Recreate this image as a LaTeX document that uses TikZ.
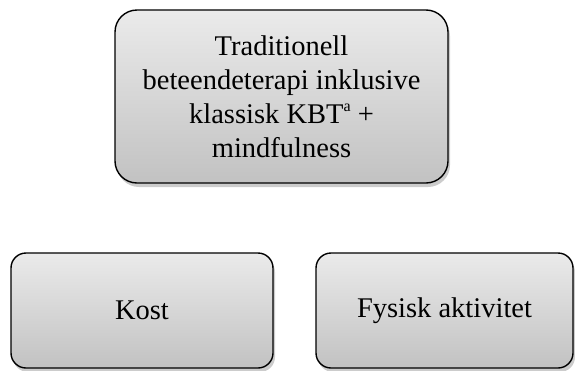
\documentclass[tikz,border=0pt]{standalone}
\usepackage{fontspec}
\setmainfont{Liberation Serif}
\usetikzlibrary{shadows}
\tikzset{
  boxstyle/.style={draw=black, line width=1.4pt, top color=black!8, bottom color=black!24,
    align=center, inner sep=0pt, font=\fontsize{28.5}{34}\selectfont,
    drop shadow={shadow xshift=2pt, shadow yshift=-4pt, opacity=0.2, fill=black}},
}
\begin{document}
\begin{tikzpicture}[x=1pt,y=-1pt]
\useasboundingbox (0,0) rectangle (575,370);
\node[boxstyle, rounded corners=22pt, minimum width=333pt, minimum height=173pt] (top) at (281.5,96.5)
  {Traditionell\\beteendeterapi inklusive\\klassisk KBT\raisebox{0.42em}{\fontsize{16}{16}\selectfont a} +\\mindfulness};
\node[boxstyle, rounded corners=15pt, minimum width=262pt, minimum height=115pt] (kost) at (142,310.5) {Kost};
\node[boxstyle, rounded corners=15pt, minimum width=257pt, minimum height=115pt] (fys) at (444.5,310.5) {Fysisk aktivitet};
\end{tikzpicture}
\end{document}
